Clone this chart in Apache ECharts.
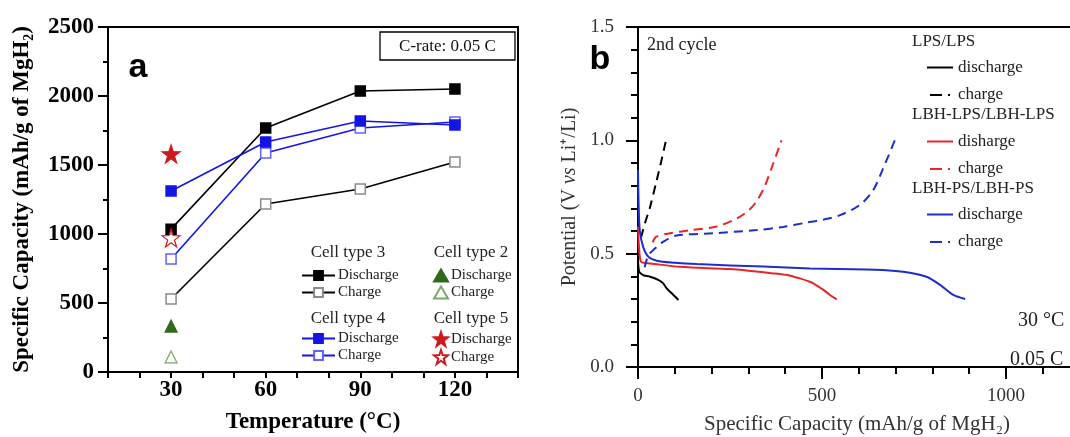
<!DOCTYPE html>
<html><head><meta charset="utf-8">
<script src="https://cdn.jsdelivr.net/npm/echarts@6/dist/echarts.min.js"></script>
<style>html,body{margin:0;padding:0;background:#fff}#c{width:1070px;height:437px}</style>
</head><body><div id="c"></div>
<script>
// ---------- Panel a data ----------
const temps = [30, 60, 90, 120];
const c3Discharge = [1035, 1768, 2036, 2051];
const c3Charge = [529, 1217, 1326, 1522];
const c4Discharge = [1312, 1667, 1819, 1790];
const c4Charge = [819, 1587, 1768, 1812];
const c2Discharge = [333];
const c2Charge = [109];
const c5Discharge = [1580];
const c5Charge = [971];
const tempSingle = [30];
const aYTicks = [0, 500, 1000, 1500, 2000, 2500];
const aXTicks = [30, 60, 90, 120];

// ---------- Panel b data: [capacity, potential] ----------
const lpsDischarge = [[0,0.47],[2,0.43],[5,0.416],[15,0.405],[33,0.398],[55,0.384],[68,0.37],[78,0.347],[96,0.318],[110,0.296]];
const lpsCharge = [[8,0.57],[19,0.635],[33,0.707],[51,0.825],[64,0.913],[76,1.0]];
const lbhLpsDischarge = [[0,0.62],[4,0.5],[8,0.465],[15,0.46],[33,0.457],[114,0.442],[250,0.432],[300,0.425],[368,0.413],[413,0.403],[440,0.391],[467,0.376],[476,0.369],[504,0.34],[520,0.32],[540,0.298]];
const lbhLpsCharge = [[40,0.55],[50,0.575],[87,0.59],[141,0.603],[214,0.62],[268,0.655],[300,0.69],[322,0.73],[345,0.8],[368,0.9],[390,1.0]];
const lbhPsDischarge = [[0,0.87],[2,0.7],[5,0.6],[14,0.53],[28,0.487],[51,0.469],[100,0.46],[160,0.454],[340,0.443],[467,0.435],[621,0.43],[700,0.424],[739,0.416],[784,0.398],[821,0.362],[857,0.318],[889,0.30]];
const lbhPsCharge = [[18,0.44],[28,0.494],[37,0.509],[51,0.53],[69,0.553],[105,0.58],[205,0.59],[322,0.604],[395,0.618],[458,0.637],[504,0.65],[549,0.67],[603,0.715],[639,0.78],[667,0.88],[698,1.0]];

const SERIF = '"Liberation Serif","Times New Roman",serif';
const SANS = '"Liberation Sans",Arial,sans-serif';
const BLUE = '#1414e6', BLUE_OPEN = '#6060ff', GREEN = '#2f6a1c', GREEN_OPEN = '#7aa86a', RED = '#cc1b1b';
const bRed = '#e8242a', bBlue = '#1c2fc8';
const DASH = [9, 6];

const zip = (xs, ys) => xs.map((x, i) => [x, ys[i]]);
const strip = n => n.split(' ').slice(1).join(' ');

const chart = echarts.init(document.getElementById('c'), null, {renderer: 'canvas'});

function aLine(name, data, color, symColor, fill) {
  return {name, type: 'line', xAxisIndex: 0, yAxisIndex: 0, data,
    symbol: 'rect', symbolSize: 10, lineStyle: {color, width: 1.6},
    itemStyle: {color: fill, borderColor: symColor, borderWidth: 1.5}, z: 3, animation: false};
}
function aScatter(name, data, symbol, size, fill, border) {
  return {name, type: 'scatter', xAxisIndex: 0, yAxisIndex: 0, data, symbol, symbolSize: size,
    itemStyle: {color: fill, borderColor: border, borderWidth: 1.2, opacity: 1}, z: 4, animation: false};
}
function bLine(name, data, color, dashed) {
  return {name, type: 'line', xAxisIndex: 1, yAxisIndex: 1, data, symbol: 'none', smooth: 0.3,
    lineStyle: {color, width: 2, type: dashed ? DASH : 'solid'}, itemStyle: {color}, animation: false};
}
function legA(names, left, top, w, h) {
  return {data: names, left, top, orient: 'vertical', itemWidth: w, itemHeight: h, itemGap: 2,
    selectedMode: false, formatter: strip, padding: 0,
    textStyle: {fontFamily: SERIF, fontSize: 15, color: '#222', lineHeight: 15, padding: [0,0,0,-2]}};
}
function legB(names, colors, top) {
  return {data: [
      {name: names[0], icon: 'path://M0,0 L26,0 L26,2 L0,2 Z', itemStyle: {color: colors, borderWidth: 0}},
      {name: names[1], icon: 'path://M0,0 L12,0 L12,2 L0,2 Z M18,0 L20,0 L20,2 L18,2 Z', itemStyle: {color: colors, borderWidth: 0}}
    ],
    left: 927, top, orient: 'vertical', itemWidth: 26, itemHeight: 2, itemGap: 10.5,
    selectedMode: false, formatter: strip, padding: 0,
    textStyle: {fontFamily: SERIF, fontSize: 17, color: '#222', lineHeight: 14}};
}
function gText(text, x, y, font, align, fill) {
  return {type: 'text', x, y, style: {text, font, fill: fill || '#000', textAlign: align || 'left', textVerticalAlign: 'middle'}, z: 10};
}

const option = {
  backgroundColor: '#fff',
  animation: false,
  grid: [
    {left: 108, top: 27, right: 552, bottom: 65, show: true, borderColor: '#000', borderWidth: 2, backgroundColor: 'transparent', outerBoundsMode: 'none'},
    {left: 638, top: 27, right: -120, bottom: 70, show: true, borderColor: '#000', borderWidth: 2, backgroundColor: 'transparent', outerBoundsMode: 'none'}
  ],
  xAxis: [
    {type: 'value', gridIndex: 0, min: 10, max: 140, interval: 10,
      axisLine: {lineStyle: {color: '#000', width: 2}},
      axisTick: {inside: false, length: 6, lineStyle: {color: '#000', width: 2}},
      axisLabel: {margin: 7, fontFamily: SERIF, fontWeight: 'bold', fontSize: 23, color: '#000',
        formatter: v => aXTicks.includes(v) ? String(v) : ''},
      splitLine: {show: false},
      name: 'Temperature (°C)', nameLocation: 'middle', nameGap: 39,
      nameTextStyle: {fontFamily: SERIF, fontWeight: 'bold', fontSize: 23, color: '#000'}},
    {type: 'value', gridIndex: 1, min: 0, max: 1500, interval: 500,
      axisLine: {lineStyle: {color: '#000', width: 2}},
      axisTick: {length: 12, lineStyle: {color: '#000', width: 2}},
      minorTick: {show: true, splitNumber: 5, length: 7, lineStyle: {color: '#000', width: 2}},
      axisLabel: {margin: 20, fontFamily: SERIF, fontSize: 19, color: '#333', formatter: v => String(v)},
      splitLine: {show: false}, minorSplitLine: {show: false}}
  ],
  yAxis: [
    {type: 'value', gridIndex: 0, min: 0, max: 2500, interval: 500,
      axisLine: {show: true, lineStyle: {color: '#000', width: 2}},
      axisTick: {show: true, length: 10, lineStyle: {color: '#000', width: 2}},
      minorTick: {show: true, splitNumber: 2, length: 5, lineStyle: {color: '#000', width: 2}},
      axisLabel: {margin: 14, fontFamily: SERIF, fontWeight: 'bold', fontSize: 23, color: '#000',
        formatter: v => aYTicks.includes(v) ? String(v) : ''},
      splitLine: {show: false}, minorSplitLine: {show: false},
      name: 'Specific Capacity (mAh/g of MgH₂)', nameLocation: 'middle', nameGap: 74,
      nameTextStyle: {fontFamily: SERIF, fontWeight: 'bold', fontSize: 23, color: '#000'}},
    {type: 'value', gridIndex: 1, min: 0, max: 1.5, interval: 0.5,
      axisLine: {show: true, lineStyle: {color: '#000', width: 2}},
      axisTick: {show: true, length: 12, lineStyle: {color: '#000', width: 2}},
      minorTick: {show: true, splitNumber: 5, length: 7, lineStyle: {color: '#000', width: 2}},
      axisLabel: {margin: 24, fontFamily: SERIF, fontSize: 19, color: '#333', formatter: v => v.toFixed(1)},
      splitLine: {show: false}, minorSplitLine: {show: false},
      name: '{t|Potential (V }{i|vs}{t| Li⁺/Li)}', nameLocation: 'middle', nameGap: 52,
      nameTextStyle: {rich: {t: {fontFamily: SERIF, fontSize: 20, color: '#333'}, i: {fontFamily: SERIF, fontSize: 20, color: '#333', fontStyle: 'italic'}}}}
  ],
  legend: [
    legA(['C3 Discharge', 'C3 Charge'], 301, 268, 33, 11),
    legA(['C4 Discharge', 'C4 Charge'], 301, 331, 33, 11),
    legA(['C2 Discharge', 'C2 Charge'], 433, 268, 14, 12),
    legA(['C5 Discharge', 'C5 Charge'], 433, 331, 14, 14),
    legB(['L1 discharge', 'L1 charge'], '#000', 59),
    legB(['L2 disharge', 'L2 charge'], bRed, 133),
    legB(['L3 discharge', 'L3 charge'], bBlue, 206)
  ],
  series: [
    aLine('C3 Charge', zip(temps, c3Charge), '#000', '#8a8a8a', '#fff'),
    aLine('C3 Discharge', zip(temps, c3Discharge), '#000', '#000', '#000'),
    aLine('C4 Charge', zip(temps, c4Charge), BLUE, BLUE_OPEN, '#fff'),
    aLine('C4 Discharge', zip(temps, c4Discharge), BLUE, BLUE, BLUE),
    aScatter('C2 Discharge', zip(tempSingle, c2Discharge), 'triangle', 12, GREEN, GREEN),
    aScatter('C2 Charge', zip(tempSingle, c2Charge), 'triangle', 12, '#fff', GREEN_OPEN),
    aScatter('C5 Discharge', zip(tempSingle, c5Discharge), 'path://M50,0 L61.8,36.2 L100,38.2 L69.1,61.8 L80.9,100 L50,76.4 L19.1,100 L30.9,61.8 L0,38.2 L38.2,36.2 Z', 18, RED, RED),
    aScatter('C5 Charge', zip(tempSingle, c5Charge), 'path://M50,0 L61.8,36.2 L100,38.2 L69.1,61.8 L80.9,100 L50,76.4 L19.1,100 L30.9,61.8 L0,38.2 L38.2,36.2 Z', 18, 'rgba(255,255,255,0.6)', RED),
    bLine('L1 discharge', lpsDischarge, '#000', false),
    bLine('L1 charge', lpsCharge, '#000', true),
    bLine('L2 disharge', lbhLpsDischarge, bRed, false),
    bLine('L2 charge', lbhLpsCharge, bRed, true),
    bLine('L3 discharge', lbhPsDischarge, bBlue, false),
    bLine('L3 charge', lbhPsCharge, bBlue, true)
  ],
  graphic: [
    gText('a', 138, 68, 'bold 34px ' + SANS, 'center'),
    gText('b', 600, 60, 'bold 34px ' + SANS, 'center'),
    {type: 'rect', shape: {x: 380, y: 32, width: 135, height: 28}, style: {fill: '#fff', stroke: '#000', lineWidth: 1.3}, z: 9},
    gText('C-rate: 0.05 C', 447.5, 46.5, '17px ' + SERIF, 'center', '#111'),
    gText('Cell type 3', 348, 253, '17px ' + SERIF, 'center', '#222'),
    gText('Cell type 4', 348, 319, '17px ' + SERIF, 'center', '#222'),
    gText('Cell type 2', 471, 253, '17px ' + SERIF, 'center', '#222'),
    gText('Cell type 5', 471, 319, '17px ' + SERIF, 'center', '#222'),
    gText('2nd cycle', 647, 45, '18px ' + SERIF, 'left', '#222'),
    gText('LPS/LPS', 912, 42, '17px ' + SERIF, 'left', '#222'),
    gText('LBH-LPS/LBH-LPS', 912, 115, '17px ' + SERIF, 'left', '#222'),
    gText('LBH-PS/LBH-PS', 912, 189, '17px ' + SERIF, 'left', '#222'),
    gText('30 °C', 1018, 321, '20px ' + SERIF, 'left', '#222'),
    gText('0.05 C', 1010, 360, '20px ' + SERIF, 'left', '#222'),
    gText('Specific Capacity (mAh/g of MgH₂)', 857, 424, '21px ' + SERIF, 'center', '#333')
  ]
};
chart.setOption(option);
</script></body></html>
